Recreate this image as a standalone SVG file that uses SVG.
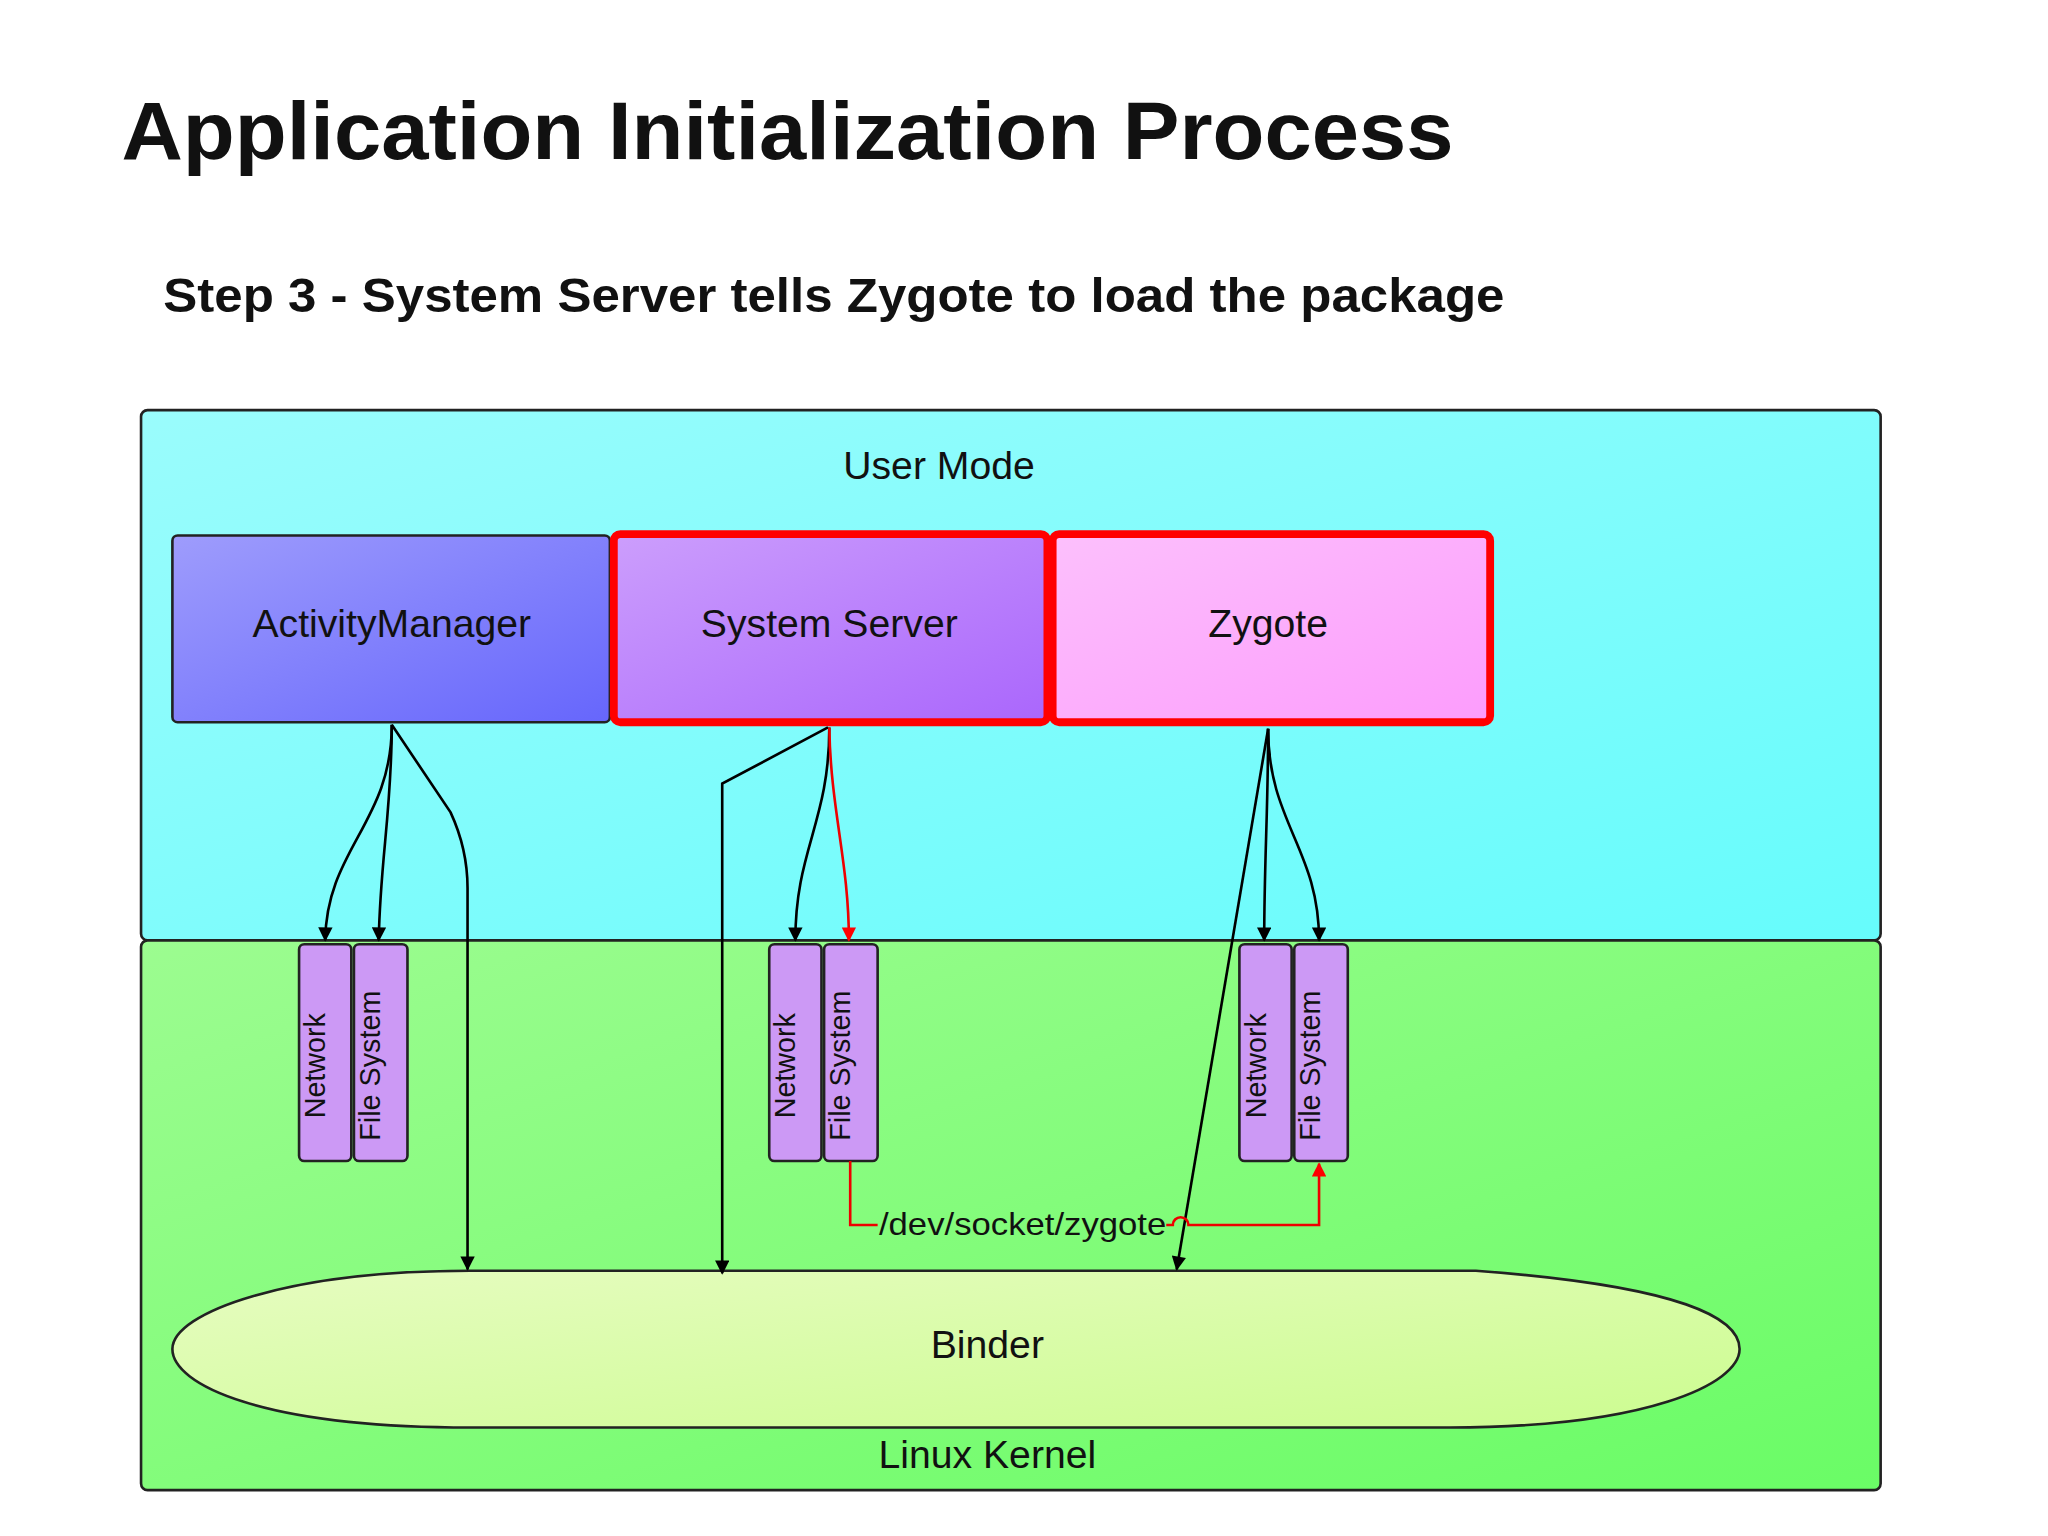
<svg xmlns="http://www.w3.org/2000/svg" width="2048" height="1536" viewBox="0 0 2048 1536">
<defs>
<linearGradient id="cy" x1="0" y1="0" x2="1" y2="1"><stop offset="0" stop-color="#9afcfc"/><stop offset="1" stop-color="#66fcfc"/></linearGradient>
<linearGradient id="gr" x1="0" y1="0" x2="1" y2="1"><stop offset="0" stop-color="#9cfc90"/><stop offset="1" stop-color="#6afc66"/></linearGradient>
<linearGradient id="am" x1="0" y1="0" x2="1" y2="1"><stop offset="0" stop-color="#9e9cfc"/><stop offset="1" stop-color="#6666fc"/></linearGradient>
<linearGradient id="ss" x1="0" y1="0" x2="1" y2="1"><stop offset="0" stop-color="#cc9efc"/><stop offset="1" stop-color="#aa66fc"/></linearGradient>
<linearGradient id="zy" x1="0" y1="0" x2="1" y2="1"><stop offset="0" stop-color="#fcc0fc"/><stop offset="1" stop-color="#fc9cfc"/></linearGradient>
<linearGradient id="bd" x1="0" y1="0" x2="1" y2="1"><stop offset="0" stop-color="#e6fcc0"/><stop offset="1" stop-color="#ccfc90"/></linearGradient>
<marker id="ab" viewBox="0 0 10 10" refX="9" refY="5" markerWidth="16" markerHeight="11" orient="auto" markerUnits="userSpaceOnUse"><path d="M0 0L10 5L0 10z" fill="#000"/></marker>
<marker id="ar" viewBox="0 0 10 10" refX="9" refY="5" markerWidth="16" markerHeight="11" orient="auto" markerUnits="userSpaceOnUse"><path d="M0 0L10 5L0 10z" fill="#f00"/></marker>
<style>
text{font-family:"Liberation Sans",Arial,sans-serif;fill:#111}
.t{font-size:30px;text-anchor:middle}
.v{font-size:22px;text-anchor:middle}
.sm{fill:#cc99f5;stroke:#222;stroke-width:2}
.k{fill:none;stroke:#000;stroke-width:2}
.r{fill:none;stroke:#e00;stroke-width:2}
</style>
</defs>
<g transform="scale(1.306)">
<text x="93" y="122" textLength="1020" lengthAdjust="spacingAndGlyphs" style="font-size:62px;font-weight:bold">Application Initialization Process</text>
<text x="125" y="239" textLength="1027" lengthAdjust="spacingAndGlyphs" style="font-size:37px;font-weight:bold">Step 3 - System Server tells Zygote to load the package</text>
<g id="user"><rect x="108" y="314" width="1332" height="406" rx="5" fill="url(#cy)" stroke="#222" stroke-width="2"/><text class="t" x="719" y="367">User Mode</text></g>
<g id="kernel"><rect x="108" y="720" width="1332" height="421" rx="5" fill="url(#gr)" stroke="#222" stroke-width="2"/><text class="t" x="756" y="1124">Linux Kernel</text></g>
<g id="binder"><path d="M360 973H1130C1290 985 1332 1010 1332 1033C1332 1060 1260 1093 1110 1093H360C200 1093 132 1060 132 1033C132 1005 220 973 360 973Z" fill="url(#bd)" stroke="#222" stroke-width="2"/><text class="t" x="756" y="1040">Binder</text></g>
<g id="am"><rect x="132" y="410" width="335" height="143" rx="4" fill="url(#am)" stroke="#222" stroke-width="2"/><text class="t" x="300" y="488">ActivityManager</text></g>
<g id="ss"><rect x="470" y="409" width="332" height="144" rx="5" fill="url(#ss)" stroke="#f00" stroke-width="6"/><text class="t" x="635" y="488">System Server</text></g>
<g id="zy"><rect x="806" y="409" width="335" height="144" rx="5" fill="url(#zy)" stroke="#f00" stroke-width="6"/><text class="t" x="971" y="488">Zygote</text></g>
<g id="small">
<rect class="sm" x="229" y="723" width="40" height="166" rx="4"/><text class="v" transform="translate(249 816) rotate(-90)" dy="0">Network</text>
<rect class="sm" x="271" y="723" width="41" height="166" rx="4"/><text class="v" transform="translate(291 816) rotate(-90)" dy="0">File System</text>
<rect class="sm" x="589" y="723" width="40" height="166" rx="4"/><text class="v" transform="translate(609 816) rotate(-90)" dy="0">Network</text>
<rect class="sm" x="631" y="723" width="41" height="166" rx="4"/><text class="v" transform="translate(651 816) rotate(-90)" dy="0">File System</text>
<rect class="sm" x="949" y="723" width="40" height="166" rx="4"/><text class="v" transform="translate(969 816) rotate(-90)" dy="0">Network</text>
<rect class="sm" x="991" y="723" width="41" height="166" rx="4"/><text class="v" transform="translate(1011 816) rotate(-90)" dy="0">File System</text>
</g>
<g id="connectors">
<path class="k" d="M300 555C300 630 250 650 249 720" marker-end="url(#ab)"/>
<path class="k" d="M300 555C300 620 291 660 290 720" marker-end="url(#ab)"/>
<path class="k" d="M300 555L345 622Q358 650 358 680V972" marker-end="url(#ab)"/>
<path class="k" d="M634 557L553 600V975" marker-end="url(#ab)"/>
<path class="k" d="M635 557C635 630 609 650 609 720" marker-end="url(#ab)"/>
<path class="r" d="M635 557C636 620 650 660 650 720" marker-end="url(#ar)"/>
<path class="k" d="M971 558C971 620 968 660 968 720" marker-end="url(#ab)"/>
<path class="k" d="M971 558C971 630 1010 650 1010 720" marker-end="url(#ab)"/>
<path class="k" d="M971 558L901 972" marker-end="url(#ab)"/>
<path class="r" d="M651 889V938H672M893 938H898A6 6 0 0 1 910 938H1010V891" marker-end="url(#ar)"/>
<text x="673" y="946" textLength="220" lengthAdjust="spacingAndGlyphs" style="font-size:24px">/dev/socket/zygote</text>
</g>
</g>
</svg>
